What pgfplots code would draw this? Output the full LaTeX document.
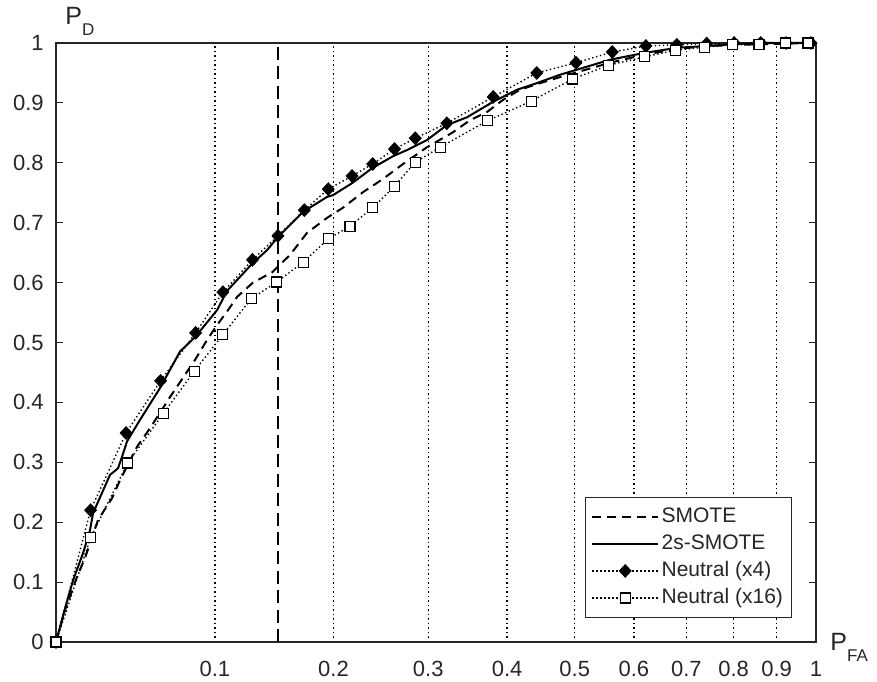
\documentclass[border=0pt]{standalone}
\usepackage{fontspec}
\setmainfont{Liberation Sans}
\usepackage{pgfplots}
\pgfplotsset{compat=1.18}
\definecolor{axgray}{RGB}{38,38,38}
\begin{document}
\begin{tikzpicture}
\begin{axis}[
  scale only axis, width=380pt, height=299.5pt,
  at={(0pt,0pt)}, anchor=south west,
  xmin=0, xmax=1, ymin=0, ymax=1,
  x coord trafo/.code={\pgfmathparse{ln(1+4*#1)/ln(5)}},
  x coord inv trafo/.code={\pgfmathparse{(5^#1-1)/4}},
  xtick={0.1,0.2,0.3,0.4,0.5,0.6,0.7,0.8,0.9,1},
  xticklabels={0.1,0.2,0.3,0.4,0.5,0.6,0.7,0.8,0.9,1},
  ytick={0,0.1,0.2,0.3,0.4,0.5,0.6,0.7,0.8,0.9,1},
  yticklabels={0,0.1,0.2,0.3,0.4,0.5,0.6,0.7,0.8,0.9,1},
  xtick style={draw=none},
  ytick pos=both,
  tick align=inside,
  major tick length=3.5pt,
  ytick style={axgray, line width=0.6pt},
  axis line style={axgray, line width=0.8pt},
  xmajorgrids=true,
  major x grid style={black, line width=0.75pt, dash pattern=on 0.75pt off 1.5pt},
  tick label style={font=\fontsize{11}{12}\selectfont, text=axgray},
  yticklabel style={anchor=east, inner sep=0pt, xshift=-6pt},
  xticklabel style={anchor=north, inner sep=0pt, yshift=-9.5pt},
  clip=false,
  legend cell align=left,
  legend image code/.code={\draw[mark repeat=2,mark phase=2,#1] plot coordinates {(0pt,0pt) (16.5pt,0pt) (33pt,0pt)};},
  legend style={at={(rel axis cs:1,0)}, anchor=south east, xshift=-12pt, yshift=12pt,
    draw=axgray, line width=0.6pt, inner xsep=3pt, inner ysep=3pt,
    font=\fontsize{10.5}{12}\selectfont, text=axgray,
    nodes={inner xsep=1.2pt, inner ysep=1.5pt, text height=8pt, text depth=2.5pt}},
]
\addplot[black, line width=1pt, dash pattern=on 4.5pt off 3pt] coordinates {
(0,0) (0.005,0.055) (0.0114,0.109) (0.0158,0.140) (0.0233,0.204) (0.0315,0.240)
(0.0363,0.270) (0.0468,0.326) (0.0551,0.357) (0.0683,0.409) (0.0771,0.441)
(0.0856,0.471) (0.0942,0.504) (0.1016,0.529) (0.1099,0.554) (0.1168,0.576)
(0.1294,0.600) (0.145,0.617) (0.1603,0.646) (0.1754,0.683) (0.1938,0.708)
(0.2091,0.725) (0.229,0.751) (0.2497,0.773) (0.2713,0.798) (0.2985,0.826)
(0.3295,0.851) (0.3507,0.871) (0.373,0.885) (0.3942,0.905) (0.4179,0.922)
(0.4468,0.933) (0.4769,0.943) (0.558,0.967) (0.6166,0.980) (0.681,0.990)
(0.742,0.995) (0.86,0.998) (1,1)};
\addlegendentry{SMOTE}
\addplot[black, line width=1pt, solid] coordinates {
(0,0) (0.0043,0.05) (0.0092,0.103) (0.0147,0.148) (0.0187,0.187) (0.0204,0.215)
(0.0256,0.249) (0.0303,0.279) (0.0351,0.290) (0.0375,0.309) (0.0406,0.335)
(0.048,0.368) (0.0616,0.424) (0.0751,0.485) (0.0856,0.509) (0.1016,0.554)
(0.1091,0.586) (0.1294,0.633) (0.1408,0.654) (0.150,0.676) (0.1718,0.718)
(0.1938,0.743) (0.1995,0.746) (0.218,0.766) (0.2382,0.791) (0.2604,0.811)
(0.2768,0.822) (0.2985,0.838) (0.322,0.863) (0.347,0.876) (0.381,0.902)
(0.4137,0.922) (0.442,0.933) (0.4769,0.947) (0.502,0.955) (0.5411,0.967)
(0.558,0.972) (0.6166,0.983) (0.681,0.992) (0.742,0.995) (0.799,0.998)
(0.86,1.0) (1,1)};
\addlegendentry{2s-SMOTE}
\addplot[black, line width=0.7pt, dash pattern=on 0.7pt off 1.3pt, mark=diamond*, mark size=3.1pt,
  mark options={solid, fill=black, line width=0.5pt, xscale=1.25}] coordinates {
(0,0) (0.019,0.220) (0.040,0.349) (0.062,0.436) (0.086,0.516) (0.106,0.584)
(0.129,0.638) (0.150,0.678) (0.173,0.721) (0.195,0.756) (0.218,0.778)
(0.239,0.798) (0.262,0.823) (0.285,0.841) (0.322,0.866) (0.381,0.910)
(0.442,0.950) (0.502,0.967) (0.562,0.985) (0.622,0.995) (0.681,0.997)
(0.742,0.999) (0.801,1.0) (0.862,1.0) (0.923,1.0) (0.987,1.0)};
\addlegendentry{Neutral (x4)}
\addplot[black, line width=0.7pt, dash pattern=on 0.7pt off 1.3pt, mark=square*, mark size=2.5pt,
  mark options={solid, fill=white, line width=0.6pt}] coordinates {
(0,0) (0.019,0.174) (0.041,0.299) (0.064,0.382) (0.085,0.452) (0.106,0.513)
(0.128,0.573) (0.149,0.601) (0.172,0.634) (0.195,0.673) (0.216,0.694)
(0.239,0.725) (0.262,0.761) (0.285,0.801) (0.314,0.826) (0.373,0.870)
(0.434,0.903) (0.497,0.940) (0.556,0.963) (0.620,0.977) (0.679,0.988)
(0.738,0.993) (0.798,0.997) (0.858,0.998) (0.921,1.0) (0.979,1.0)};
\addlegendentry{Neutral (x16)}
\addplot[black, line width=0.6pt, dash pattern=on 6.5pt off 3.2pt, forget plot] coordinates {(0.15,0) (0.15,1)};
\node[anchor=base west, inner sep=0pt, xshift=4.5pt, yshift=9pt, text=axgray,
  font=\fontsize{12.5}{13}\selectfont] at (rel axis cs:0,1)
  {P\raisebox{-5.5pt}{\fontsize{8.5}{9}\selectfont D}};
\node[anchor=base west, inner sep=0pt, xshift=7pt, yshift=-4pt, text=axgray,
  font=\fontsize{12.5}{13}\selectfont] at (rel axis cs:1,0)
  {P\raisebox{-5.5pt}{\fontsize{8.5}{9}\selectfont FA}};
\end{axis}
\pgfresetboundingbox
\path[use as bounding box] (-28pt,-19.5pt) rectangle (410.5pt,321pt);
\end{tikzpicture}
\end{document}
